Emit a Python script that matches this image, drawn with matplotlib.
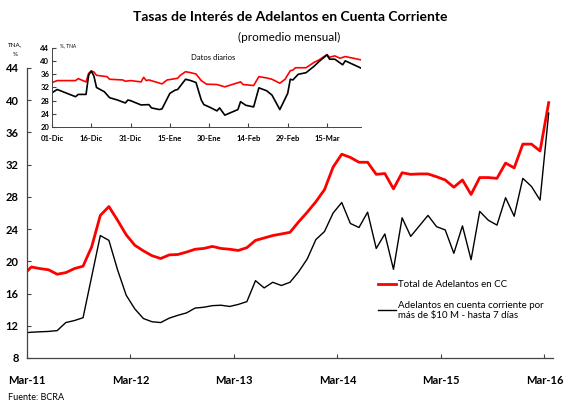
import numpy as np
import pandas as pd
import matplotlib
matplotlib.use("Agg")
import matplotlib.pyplot as plt

plt.rcParams["font.family"] = ["Lato", "DejaVu Sans"]

# Datos mensuales (feb-11 a mar-16), TNA %
total_cc = [18.2,
            19.3, 19.1, 18.95, 18.4, 18.6, 19.1, 19.4, 21.8, 25.7, 26.8,
            25.1, 23.3, 22.0, 21.3, 20.7, 20.35, 20.8, 20.85, 21.15, 21.5,
            21.6, 21.85, 21.6, 21.5, 21.35, 21.7, 22.6, 22.9, 23.2, 23.4,
            23.6, 24.9, 26.1, 27.4, 28.9, 31.7, 33.3, 32.9, 32.3, 32.3,
            30.8, 30.9, 29.0, 31.0, 30.8, 30.85, 30.85, 30.5, 30.1, 29.2,
            30.1, 28.3, 30.4, 30.4, 30.3, 32.2, 31.6, 34.55, 34.55, 33.7,
            39.7]
mas_10m = [11.1,
           11.2, 11.25, 11.3, 11.4, 12.4, 12.65, 13.0, 18.1, 23.2, 22.6,
           18.95, 15.8, 14.1, 12.9, 12.5, 12.4, 12.95, 13.3, 13.6, 14.2,
           14.3, 14.5, 14.55, 14.4, 14.65, 15.0, 17.6, 16.7, 17.4, 17.0,
           17.4, 18.7, 20.3, 22.7, 23.7, 26.0, 27.3, 24.7, 24.2, 26.1,
           21.6, 23.4, 19.0, 25.4, 23.1, 24.4, 25.7, 24.3, 23.9, 21.0,
           24.4, 20.2, 26.2, 25.1, 24.5, 27.9, 25.6, 30.3, 29.3, 27.6,
           38.4]
etiquetas_x = ["Mar-11", "Mar-12", "Mar-13", "Mar-14", "Mar-15", "Mar-16"]

# Datos diarios (dias desde el 01-Dic-2015)
dia_total = [0, 2, 9, 10, 13, 14, 15, 16, 17, 21, 22, 27, 28, 30, 34, 35, 36, 37,
             42, 44, 48, 49, 51, 53, 55, 57, 59, 63, 66, 72, 73, 77, 79, 82, 84,
             87, 89, 91, 92, 93, 97, 100, 102, 105, 106, 108, 110, 112, 118]
diario_total = [33.5, 34.1, 34.1, 34.7, 33.7, 36.3, 37.0, 36.7, 35.7, 35.3, 34.5,
                34.3, 33.9, 34.1, 33.7, 35.1, 34.1, 34.3, 33.1, 34.3, 34.8, 35.7,
                36.8, 36.5, 36.1, 34.1, 33.0, 32.9, 32.2, 33.7, 32.9, 32.6, 35.3,
                34.9, 34.5, 33.3, 34.5, 37.1, 37.3, 38.0, 38.0, 39.6, 40.4, 42.0,
                41.2, 41.6, 40.9, 41.4, 40.4]
dia_10m = [0, 2, 9, 10, 13, 14, 15, 16, 17, 20, 22, 25, 28, 29, 30, 34, 37, 38,
           41, 42, 45, 47, 48, 51, 53, 55, 57, 58, 60, 63, 64, 66, 71, 72, 74, 77,
           79, 82, 84, 87, 90, 91, 92, 94, 97, 100, 102, 105, 106, 108, 111, 112, 118]
diario_10m = [30.4, 31.4, 29.2, 29.9, 29.9, 35.8, 37.0, 35.5, 32.0, 30.7, 28.9,
              28.2, 27.3, 28.2, 28.0, 26.7, 26.8, 25.8, 25.3, 25.5, 30.2, 31.2,
              31.4, 34.5, 34.1, 33.5, 28.2, 26.8, 26.1, 24.9, 25.8, 23.6, 25.3,
              27.7, 26.6, 26.1, 31.9, 31.0, 29.7, 25.3, 30.2, 34.5, 34.3, 36.0,
              36.5, 38.4, 39.9, 41.9, 40.6, 40.6, 38.9, 40.1, 37.9]
etiquetas_dias = ["01-Dic", "16-Dic", "31-Dic", "15-Ene", "30-Ene", "14-Feb", "29-Feb", "15-Mar"]

W, H = 565, 401
fig = plt.figure(figsize=(W / 100, H / 100), dpi=100)

# grafico principal
ax = fig.add_axes([27 / W, 43 / H, (553 - 27) / W, (358 - 68) / H])
x = np.arange(len(total_cc)) - 0.5
ax.plot(x, total_cc, color="#ff0000", lw=2.0, label="Total de Adelantos en CC")
ax.plot(x, mas_10m, color="black", lw=1.0,
        label="Adelantos en cuenta corriente por\nmás de $10 M - hasta 7 días")
ax.set_xlim(0, 61)
ax.set_ylim(8, 44)
ax.set_yticks(np.arange(8, 45, 4))
ax.set_xticks(np.arange(0, 61, 12))
ax.set_xticklabels(etiquetas_x)
for s in ["top", "right"]:
    ax.spines[s].set_visible(False)
for s in ["left", "bottom"]:
    ax.spines[s].set_color("#444444")
    ax.spines[s].set_linewidth(0.9)
ax.tick_params(axis="both", direction="in", length=3, color="#444444",
               labelsize=8)
ax.tick_params(axis="x", pad=12)
ax.tick_params(axis="y", pad=6)
for t in ax.get_xticklabels() + ax.get_yticklabels():
    t.set_fontweight("bold")

ax.legend(loc="upper left", bbox_to_anchor=(378 / W, 1 - 280 / H),
          bbox_transform=fig.transFigure, frameon=False, fontsize=7,
          handlelength=1.8, handletextpad=0.25, labelspacing=1.2,
          borderpad=0, borderaxespad=0)

fig.text(290 / W, 1 - 17 / H, "Tasas de Interés de Adelantos en Cuenta Corriente",
         ha="center", va="center", fontsize=10, fontweight="bold")
fig.text(289 / W, 1 - 37 / H, "(promedio mensual)", ha="center", va="center",
         fontsize=8.5)
fig.text(8 / W, 1 - 397 / H, "Fuente: BCRA", ha="left", va="center", fontsize=6.5)
fig.text(15 / W, 1 - 45 / H, "TNA,", ha="center", va="center", fontsize=4.5)
fig.text(15 / W, 1 - 54 / H, "%", ha="center", va="center", fontsize=4.5)

# recuadro con datos diarios
axi = fig.add_axes([52 / W, 1 - 127 / H, (361 - 52) / W, (127 - 48) / H])
axi.set_facecolor("white")
axi.plot(dia_total, diario_total, color="#ff0000", lw=1.2)
axi.plot(dia_10m, diario_10m, color="black", lw=1.2)
axi.set_xlim(0, 118)
axi.set_ylim(20, 44)
axi.set_yticks(np.arange(20, 45, 4))
axi.set_xticks(np.arange(0, 106, 15))
axi.set_xticklabels(etiquetas_dias)
for s in ["top", "right"]:
    axi.spines[s].set_visible(False)
for s in ["left", "bottom"]:
    axi.spines[s].set_color("#444444")
    axi.spines[s].set_linewidth(0.7)
axi.tick_params(axis="both", direction="in", length=3, color="#444444",
                labelsize=5.5)
axi.tick_params(axis="x", pad=6)
axi.tick_params(axis="y", pad=2)
for t in axi.get_xticklabels() + axi.get_yticklabels():
    t.set_fontweight("bold")
axi.text(0.52, 0.88, "Datos diarios", transform=axi.transAxes, ha="center",
         va="center", fontsize=5.5)
fig.text(60 / W, 1 - 46 / H, "%, TNA", ha="left", va="center", fontsize=3.5)

fig.savefig("out.png", dpi=100)
